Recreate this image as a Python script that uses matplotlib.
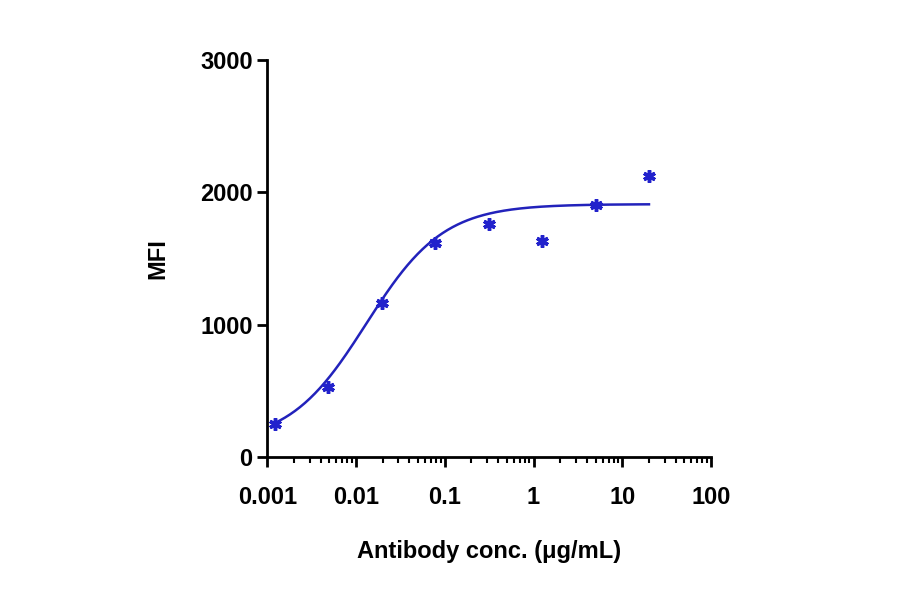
import numpy as np
import matplotlib.pyplot as plt

conc = [0.00122, 0.00488, 0.0195, 0.078, 0.3125, 1.25, 5, 20]
mfi = [250, 530, 1160, 1620, 1760, 1630, 1900, 2120]

# 4PL fit parameters (estimated)
bottom, top, ec50, hill = 100, 1910, 0.013, 1.0

plt.rcParams['font.family'] = ['Liberation Sans', 'DejaVu Sans']
fig = plt.figure(figsize=(9, 5.94), dpi=100)
ax = fig.add_axes([0.297, 0.231, 0.493, 0.668])

xs = np.logspace(np.log10(conc[0]), np.log10(conc[-1]), 300)
ys = bottom + (top - bottom) / (1 + (ec50 / xs) ** hill)
ax.plot(xs, ys, color='#2222bb', lw=1.8)
ax.plot(conc, mfi, linestyle='none', marker=(6, 2, 0), markersize=9,
        markeredgewidth=2.5, color='#2222cc')

ax.set_xscale('log')
ax.set_xlim(0.001, 100)
ax.set_ylim(0, 3000)
ax.set_yticks([0, 1000, 2000, 3000])
ax.set_xticks([0.001, 0.01, 0.1, 1, 10, 100])
ax.set_xticklabels(['0.001', '0.01', '0.1', '1', '10', '100'])
for s in ['top', 'right']:
    ax.spines[s].set_visible(False)
for s in ['left', 'bottom']:
    ax.spines[s].set_linewidth(2)
ax.tick_params(which='major', width=2, length=7, labelsize=17)
ax.tick_params(axis='x', which='major', pad=14)
ax.tick_params(which='minor', width=1.5, length=4)
for lab in ax.get_xticklabels() + ax.get_yticklabels():
    lab.set_fontweight('bold')
ax.set_xlabel('Antibody conc. (μg/mL)', fontsize=17, fontweight='bold', labelpad=22)
ax.set_ylabel('MFI', fontsize=17, fontweight='bold', labelpad=22)

fig.savefig('out.png', dpi=100)
